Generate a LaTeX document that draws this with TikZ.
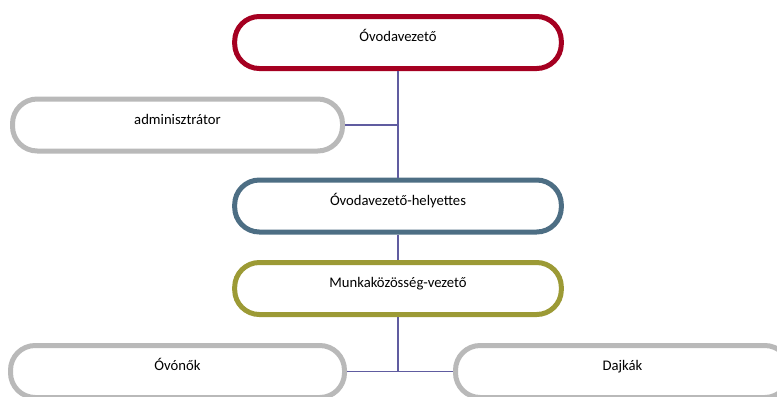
\documentclass[tikz,border=0pt]{standalone}
\usepackage{fontspec}
\setmainfont{Carlito}
\usepackage{tikz}
\usetikzlibrary{calc}

\definecolor{vred}{RGB}{165,0,33}
\definecolor{vgray}{RGB}{185,185,185}
\definecolor{vblue}{RGB}{77,110,132}
\definecolor{volive}{RGB}{156,154,53}
\definecolor{vline}{RGB}{96,92,160}

\begin{document}
\begin{tikzpicture}[x=0.75pt, y=-0.75pt]

\tikzstyle{pill} = [rectangle, rounded corners=18.5pt, line width=3.75pt, fill=white, minimum width=245pt, minimum height=39pt, inner sep=0pt, text height=8pt, text depth=9pt, font=\fontsize{11}{13}\selectfont, text centered]
\tikzstyle{conn} = [draw=vline, line width=1.4pt]

\useasboundingbox (0,0) rectangle (777,396);
\clip (0,0) rectangle (777,396);

\node (vez) [pill, draw=vred] at (398,42.5) {Óvodavezető};
\node (adm) [pill, draw=vgray, minimum width=247.5pt] at (177.5,125) {adminisztrátor};
\node (hely) [pill, draw=vblue] at (398,206) {Óvodavezető-helyettes};
\node (mkv) [pill, draw=volive] at (398,288.5) {Munkaközösség-vezető};
\node (ovo) [pill, draw=vgray, minimum width=250.5pt] at (177.5,371.5) {Óvónők};
\node (daj) [pill, draw=vgray, minimum width=250.5pt] at (622.5,371.5) {Dajkák};

\coordinate (ag) at (adm.east -| vez.south);
\coordinate (og) at (ovo.east -| mkv.south);

\draw [conn] (vez.south) -- (hely.north);
\draw [conn] (adm.east) -- (ag);
\draw [conn] (hely.south) -- (mkv.north);
\draw [conn] (mkv.south) -- (og);
\draw [conn] (ovo.east) -- (daj.west);
\end{tikzpicture}
\end{document}
